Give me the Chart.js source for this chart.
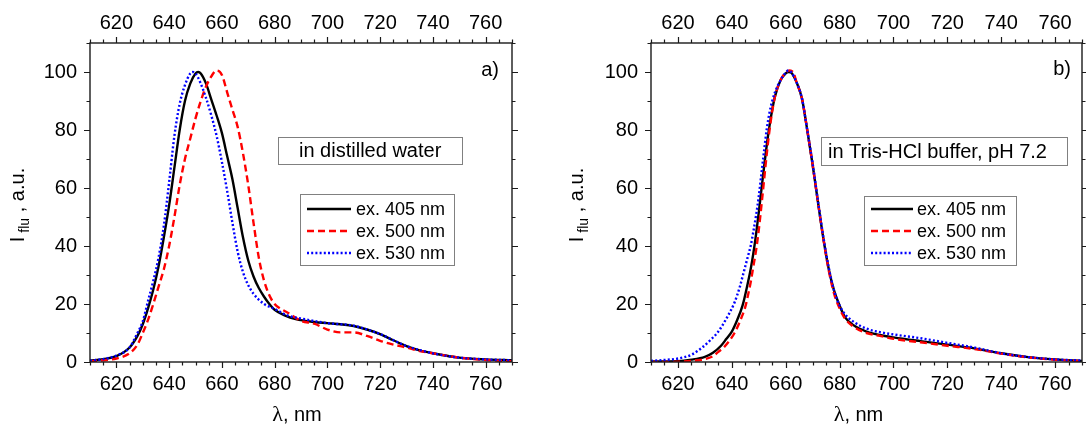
<!DOCTYPE html>
<html>
<head>
<meta charset="utf-8">
<script src="https://cdn.jsdelivr.net/npm/chart.js@4/dist/chart.umd.min.js"></script>
<style>
html,body{margin:0;padding:0;background:#fff;}
#wrap{position:relative;width:1086px;height:427px;overflow:hidden;}
.pane{position:absolute;top:0;width:543px;height:427px;}
canvas{display:block;}
</style>
</head>
<body>
<div id="wrap">
  <div class="pane" style="left:0"><canvas id="c1" width="543" height="427"></canvas></div>
  <div class="pane" style="left:543px"><canvas id="c2" width="543" height="427"></canvas></div>
</div>
<script>
// ---------- data ----------
const seriesLabels = ['ex. 405 nm', 'ex. 500 nm', 'ex. 530 nm'];
const panelTags = ['a)', 'b)'];
const panelNotes = ['in distilled water', 'in Tris-HCl buffer, pH 7.2'];
const xAxisTitleSymbol = 'λ';
const xAxisTitleRest = ', nm';
const xMajorTicks = [620, 640, 660, 680, 700, 720, 740, 760];
const xMinorTicks = [610,615,625,630,635,645,650,655,665,670,675,685,690,695,705,710,715,725,730,735,745,750,755,765,770];
const yMajorTicks = [0, 20, 40, 60, 80, 100];
const yMinorTicks = [10, 30, 50, 70, 90, 110];

// panel a) distilled water
const waterEx405X = [610,615,620,625,628,630,632,634,636,638,640,642,644,646,648,650,651,652,654,656,658,660,662,664,666,668,670,672,674,676,678,680,684,688,695,700,705,710,715,720,725,730,735,740,750,760,770];
const waterEx405Y = [0.4,1,2,5,9,13,18.5,25,33,43,54,67,80,90,96,99.5,100,99.5,96,90.5,85,79,71,63,53,43,35,29.5,25.5,22.5,20,18,16,14.8,13.8,13.4,13,12.4,11.2,9.6,7.5,5.5,4,3,1.5,0.9,0.6];
const waterEx500X = [610,615,620,625,628,630,632,634,636,638,640,642,644,646,648,650,652,654,656,658,660,662,664,666,668,670,672,674,676,678,680,682,685,690,695,700,705,710,715,720,725,730,735,740,750,760,770];
const waterEx500Y = [0.3,0.6,1.2,3,6,10,14.5,20,26,32,40,50,61,70,77,84,90,95,98.5,100.5,99,93,87,81,72,61,48,36,28,23,20,18.5,17,14.2,13.2,11.2,10.2,10.2,9,7.3,6,5,3.8,3,1.5,0.7,0.3];
const waterEx530X = [610,615,620,625,628,630,632,634,636,638,640,642,644,646,648,649,650,652,654,656,658,660,662,664,666,668,670,672,676,680,685,690,700,710,720,730,740,750,760,770];
const waterEx530Y = [0.5,1,2.2,5,10,14,21,28,36,47,62,78,89,95.5,99.5,100,99.5,96,91,85,78,69,59,48,38,31,26.5,23.5,20,18.3,16,15,13.4,12.5,9.6,5.5,3,1.5,0.9,0.6];

// panel b) Tris-HCl buffer
const trisEx405X = [610,620,625,630,633,636,638,640,642,644,646,647,648,649,650,651,652,653,654,655,656,658,660,661,662,664,666,668,670,672,674,676,678,680,682,685,690,695,700,710,720,730,740,750,760,770];
const trisEx405Y = [0.2,0.3,0.8,1.8,3.2,5.6,8,10.5,14.5,19.5,27.5,32,37.5,44,51.5,59.5,67.5,75,81.5,87,91.5,97,99.5,100,99.8,96.5,91,80,68,55,42.5,32,24.5,19.5,15.5,12.8,10.5,9.3,8.5,7.2,6,4.7,3,1.7,0.9,0.4];
const trisEx500X = [610,620,625,630,633,635,637,639,641,643,645,646,647,648,649,650,651,652,653,654,655,656,658,660,661.5,663,664,666,668,670,672,674,676,678,680,682,685,690,695,700,710,720,730,740,750,760,770];
const trisEx500Y = [0,0.1,0.4,1,2,3.5,5,7.2,10,14,19,23,27.5,33,38.5,45.5,54,63,72,80,86.5,91.5,97,99.8,100.5,99.5,96.5,91,80,68,55,42.5,31.5,23.5,18.5,15,12.3,10,9,8,6.8,5.6,4.5,2.9,1.6,0.8,0.3];
const trisEx530X = [610,615,620,625,629,632,635,638,641,643,644,645,646,647,648,649,650,651,652,653,654,655,656,658,660,661,662,664,666,668,670,672,674,676,678,680,682,685,690,695,700,710,720,730,740,750,760,770];
const trisEx530Y = [0.4,0.7,1.2,2.5,5,7.5,10.5,15,20.5,26,29.5,33,36.5,40,45,50.5,57,65,73,80.5,86,90,93,97,99.8,100.5,100,96.5,91,80,68.5,55.5,43,32.5,24.5,19.5,16.5,14,11.5,10.3,9.5,8.2,6.6,5,3,1.7,0.9,0.5];

// ---------- styling ----------
const FONT = "'Liberation Sans', Arial, Helvetica, sans-serif";
const SERIF = "'Liberation Serif', 'DejaVu Serif', serif";
Chart.defaults.font.family = FONT;
Chart.defaults.color = '#000';

const seriesStyles = [
  {color:'#000000', dash:[], width:2.4, order:3},
  {color:'#ff0000', dash:[7,4], width:2.4, order:2},
  {color:'#0000ff', dash:[2,2.2], width:2.4, order:1}
];

function toPoints(xs, ys){ return xs.map((v,i)=>({x:v, y:ys[i]})); }

function buildPanel(canvasId, cfg){
  const datasets = cfg.series.map((s,i)=>({
    label: seriesLabels[i],
    data: toPoints(s[0], s[1]),
    borderColor: seriesStyles[i].color,
    borderDash: seriesStyles[i].dash,
    borderWidth: seriesStyles[i].width,
    order: seriesStyles[i].order,
    pointRadius: 0,
    fill: false,
    cubicInterpolationMode: 'monotone',
    borderCapStyle: 'butt'
  }));

  const decor = {
    id: 'decor' + canvasId,
    afterDraw(chart){
      const ctx = chart.ctx, a = chart.chartArea;
      const xs = chart.scales.x, ys = chart.scales.y;
      ctx.save();
      // frame
      ctx.strokeStyle = '#1a1a1a';
      ctx.lineWidth = 1.4;
      ctx.strokeRect(a.left, a.top, a.right - a.left, a.bottom - a.top);
      // ticks (outward on all sides)
      ctx.beginPath();
      const xt = xMajorTicks.map(v=>[v,6]).concat(xMinorTicks.map(v=>[v,3.5]));
      xt.forEach(([v,len])=>{
        const p = Math.round(xs.getPixelForValue(v)) + 0.5;
        ctx.moveTo(p, a.bottom); ctx.lineTo(p, a.bottom + len);
        ctx.moveTo(p, a.top); ctx.lineTo(p, a.top - len);
      });
      const yt = yMajorTicks.map(v=>[v,6]).concat(yMinorTicks.map(v=>[v,3.5]));
      yt.forEach(([v,len])=>{
        const p = Math.round(ys.getPixelForValue(v)) + 0.5;
        ctx.moveTo(a.left, p); ctx.lineTo(a.left - len, p);
        ctx.moveTo(a.right, p); ctx.lineTo(a.right + len, p);
      });
      ctx.lineWidth = 1.2;
      ctx.stroke();

      // x axis title: λ, nm
      ctx.fillStyle = '#000';
      ctx.textBaseline = 'alphabetic';
      ctx.textAlign = 'left';
      const symFont = '22px ' + SERIF, restFont = '20px ' + FONT;
      ctx.font = symFont; const ws = ctx.measureText(xAxisTitleSymbol).width;
      ctx.font = restFont; const wr = ctx.measureText(xAxisTitleRest).width;
      const tx0 = (a.left + a.right)/2 + cfg.xTitleShift - (ws + wr)/2;
      ctx.font = symFont; ctx.fillText(xAxisTitleSymbol, tx0, cfg.xTitleBase);
      ctx.font = restFont; ctx.fillText(xAxisTitleRest, tx0 + ws, cfg.xTitleBase);

      // y axis title: I_flu , a.u.
      ctx.save();
      ctx.translate(cfg.yTitleX, cfg.yTitleY);
      ctx.rotate(-Math.PI/2);
      ctx.fillStyle = '#000';
      ctx.textBaseline = 'alphabetic';
      const big = '20px ' + FONT, small = '14px ' + FONT;
      ctx.font = big; const w1 = ctx.measureText('I').width;
      ctx.font = small; const w2 = ctx.measureText('flu').width;
      ctx.font = big; const w3 = ctx.measureText(' , a.u.').width;
      const gap = 4;
      let x0 = -(w1 + gap + w2 + w3)/2;
      ctx.font = big; ctx.fillText('I', x0, 0);
      ctx.font = small; ctx.fillText('flu', x0 + w1 + gap, 5);
      ctx.font = big; ctx.fillText(' , a.u.', x0 + w1 + gap + w2, 0);
      ctx.restore();

      // panel tag
      ctx.fillStyle = '#000';
      ctx.font = '20px ' + FONT;
      ctx.textAlign = 'right';
      ctx.textBaseline = 'middle';
      ctx.fillText(cfg.tag, a.right - cfg.tagInset, cfg.tagY);

      // note box
      const nb = cfg.noteBox;
      ctx.fillStyle = '#fff';
      ctx.fillRect(nb.x, nb.y, nb.w, nb.h);
      ctx.strokeStyle = '#808080';
      ctx.lineWidth = 1;
      ctx.strokeRect(nb.x + 0.5, nb.y + 0.5, nb.w, nb.h);
      ctx.fillStyle = '#000';
      ctx.textAlign = 'left';
      ctx.font = '20px ' + FONT;
      ctx.fillText(cfg.note, nb.tx, nb.y + nb.h/2 + 1);

      // legend box
      const lb = cfg.legendBox;
      ctx.fillStyle = '#fff';
      ctx.fillRect(lb.x, lb.y, lb.w, lb.h);
      ctx.strokeStyle = '#808080';
      ctx.lineWidth = 1;
      ctx.strokeRect(lb.x + 0.5, lb.y + 0.5, lb.w, lb.h);
      chart.data.datasets.forEach((ds, i)=>{
        const yy = lb.rows[i];
        ctx.beginPath();
        ctx.strokeStyle = ds.borderColor;
        ctx.lineWidth = ds.borderWidth;
        ctx.setLineDash(ds.borderDash);
        ctx.moveTo(lb.x1, yy); ctx.lineTo(lb.x2, yy);
        ctx.stroke();
        ctx.setLineDash([]);
        ctx.fillStyle = '#000';
        ctx.font = '18px ' + FONT;
        ctx.textAlign = 'left';
        ctx.textBaseline = 'middle';
        ctx.fillText(ds.label, lb.tx, yy + 1);
      });
      ctx.restore();
    }
  };

  const tickFont = {family: FONT, size: 20};
  const commonX = {
    type: 'linear', min: 610, max: 770,
    grid: {display: false, drawTicks: false},
    border: {display: false},
    afterBuildTicks(s){ s.ticks = xMajorTicks.map(v=>({value:v})); }
  };

  return new Chart(document.getElementById(canvasId), {
    type: 'line',
    data: {datasets},
    options: {
      responsive: false,
      animation: false,
      events: [],
      layout: {padding: {left: 0, right: 543 - cfg.plotRight, top: 0, bottom: 0}},
      plugins: {legend: {display: false}, tooltip: {enabled: false}},
      scales: {
        x: Object.assign({}, commonX, {
          position: 'bottom',
          afterFit(s){ s.height = 427 - cfg.plotBottom; },
          ticks: {font: tickFont, color: '#000', padding: 10, maxRotation: 0, autoSkip: false}
        }),
        xTop: Object.assign({}, commonX, {
          position: 'top',
          afterFit(s){ s.height = cfg.plotTop; },
          ticks: {font: tickFont, color: '#000', padding: 8, maxRotation: 0, autoSkip: false}
        }),
        y: {
          type: 'linear', position: 'left', min: 0, max: 110,
          grid: {display: false, drawTicks: false},
          border: {display: false},
          afterBuildTicks(s){ s.ticks = yMajorTicks.map(v=>({value:v})); },
          afterFit(s){ s.width = cfg.plotLeft; },
          ticks: {font: tickFont, color: '#000', padding: 13}
        }
      }
    },
    plugins: [decor]
  });
}

buildPanel('c1', {
  series: [[waterEx405X, waterEx405Y], [waterEx500X, waterEx500Y], [waterEx530X, waterEx530Y]],
  plotLeft: 90, plotRight: 512, plotTop: 43, plotBottom: 362,
  xTitleShift: -4, xTitleBase: 421,
  yTitleX: 24, yTitleY: 205,
  tag: panelTags[0], tagInset: 13, tagY: 70,
  note: panelNotes[0],
  noteBox: {x: 278, y: 137, w: 184, h: 27, tx: 299},
  legendBox: {x: 300, y: 194, w: 154, h: 71, x1: 307, x2: 351, tx: 356, rows: [209, 231, 253]}
});

buildPanel('c2', {
  series: [[trisEx405X, trisEx405Y], [trisEx500X, trisEx500Y], [trisEx530X, trisEx530Y]],
  plotLeft: 108, plotRight: 539, plotTop: 43, plotBottom: 362,
  xTitleShift: -8, xTitleBase: 421,
  yTitleX: 40, yTitleY: 205,
  tag: panelTags[1], tagInset: 11, tagY: 69,
  note: panelNotes[1],
  noteBox: {x: 278, y: 137, w: 246, h: 28, tx: 285},
  legendBox: {x: 321, y: 196, w: 152, h: 69, x1: 328, x2: 370, tx: 374, rows: [209, 231, 253]}
});
</script>
</body>
</html>
